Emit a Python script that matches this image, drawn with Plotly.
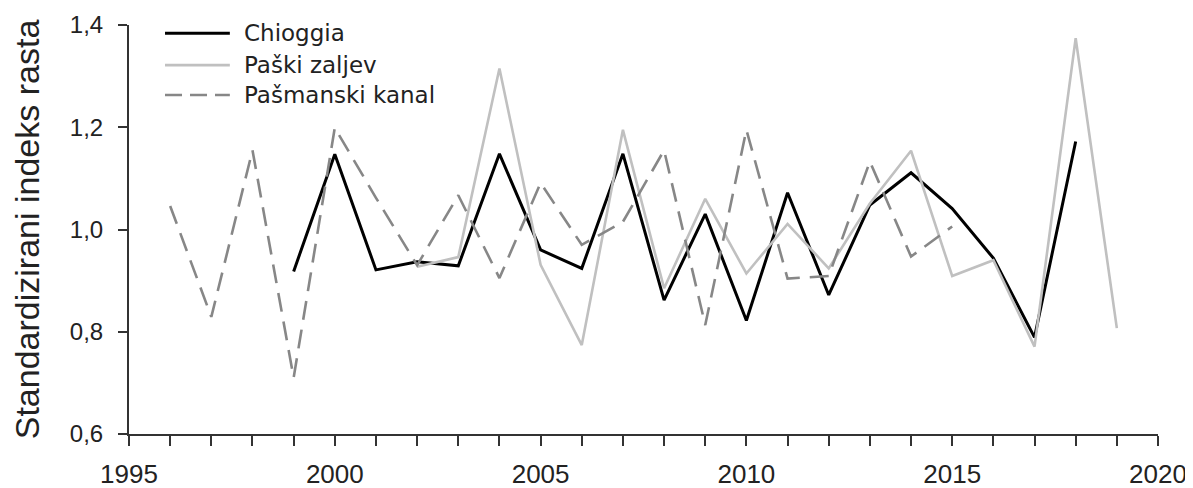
import plotly.graph_objects as go

chioggia_years = list(range(1999, 2019))
chioggia = [0.918, 1.147, 0.921, 0.937, 0.929, 1.148, 0.960, 0.924, 1.148, 0.862,
            1.030, 0.822, 1.072, 0.872, 1.048, 1.111, 1.041, 0.944, 0.789, 1.172]

paski_years = list(range(2002, 2020))
paski = [0.927, 0.946, 1.315, 0.931, 0.774, 1.195, 0.885, 1.060, 0.914, 1.011,
         0.924, 1.051, 1.154, 0.909, 0.940, 0.771, 1.374, 0.807]

pasmanski_years = list(range(1996, 2016))
pasmanski = [1.046, 0.829, 1.155, 0.710, 1.199, 1.062, 0.930, 1.067, 0.905, 1.091,
             0.970, 1.015, 1.155, 0.813, 1.195, 0.904, 0.909, 1.133, 0.947, 1.006]

x_tick_labels = [1995, 2000, 2005, 2010, 2015, 2020]

series = [
    ("Chioggia", chioggia_years, chioggia, dict(color="#000000", width=3)),
    ("Paški zaljev", paski_years, paski, dict(color="#c0c0c0", width=2.6)),
    ("Pašmanski kanal", pasmanski_years, pasmanski, dict(color="#878787", width=2.6, dash="19px,10px")),
]

fig = go.Figure()
for name, xs, ys, line in series:
    fig.add_trace(go.Scatter(x=xs, y=ys, mode="lines", name=name, line=line, showlegend=False))

# legend drawn in the top-left of the plot area
legend_rows_y = [0.980, 0.902, 0.829]
for (name, _, _, line), ly in zip(series, legend_rows_y):
    fig.add_shape(type="line", xref="paper", yref="paper", x0=0.035, x1=0.098, y0=ly, y1=ly,
                  line=dict(color=line["color"], width=line["width"],
                            dash="17px,8px" if "dash" in line else "solid"))
    fig.add_annotation(xref="paper", yref="paper", x=0.110, y=ly, text=name, showarrow=False,
                       xanchor="left", yanchor="middle",
                       font=dict(family="DejaVu Sans, Verdana, sans-serif", size=23, color="#222222"))

# the page body adds an 8px offset, so the figure is sized to sit flush with the window
fig.update_layout(
    width=1185, height=480,
    margin=dict(l=121, r=35, t=17, b=54),
    paper_bgcolor="white", plot_bgcolor="white",
    separators=",.",
    showlegend=False,
    xaxis=dict(range=[1995, 2020], tickvals=x_tick_labels, automargin=False,
               ticks="outside", ticklen=10, tickwidth=1.5, tickcolor="#333333",
               ticklabelstandoff=6,
               showline=True, linecolor="#333333", linewidth=2,
               showgrid=False, zeroline=False,
               tickfont=dict(family="Liberation Sans, Arial, sans-serif", size=26, color="#222222"),
               minor=dict(dtick=1, tick0=1995, ticks="outside", ticklen=10,
                          tickwidth=1.5, tickcolor="#333333", showgrid=False)),
    yaxis=dict(range=[0.6, 1.4], dtick=0.2, tick0=0.6, tickformat=".1f", automargin=False,
               ticks="outside", ticklen=9, tickwidth=1.5, tickcolor="#333333",
               ticklabelstandoff=10,
               showline=True, linecolor="#333333", linewidth=2,
               showgrid=False, zeroline=False,
               tickfont=dict(family="Liberation Sans, Arial, sans-serif", size=24, color="#222222"),
               title=dict(text="Standardizirani indeks rasta", font=dict(
                   family="Liberation Sans, Arial, sans-serif", size=34, color="#222222"),
                   standoff=28)),
)

fig.write_html("out.html")
